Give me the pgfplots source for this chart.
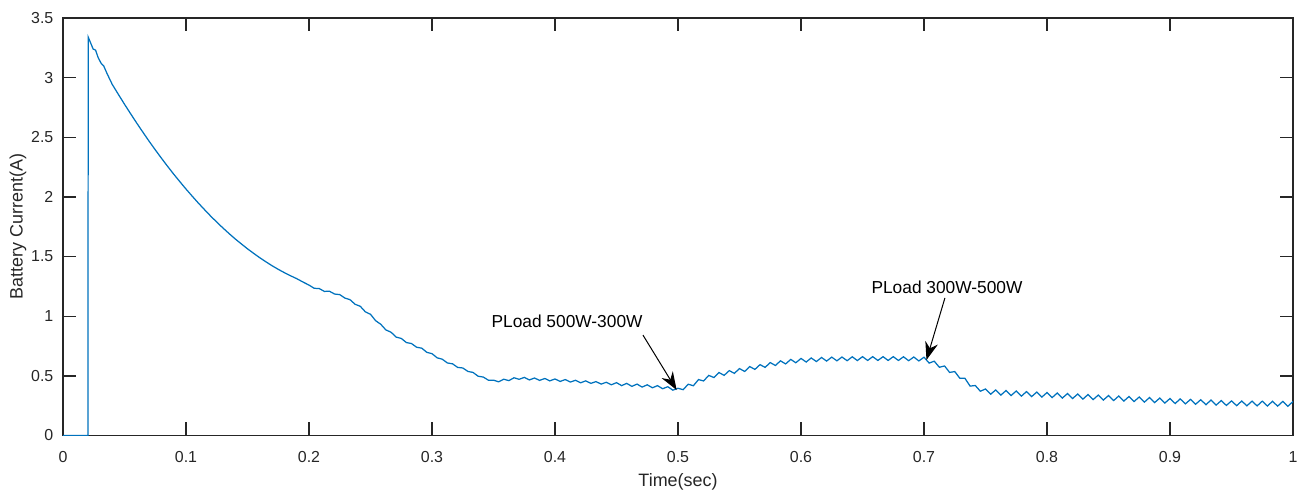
\documentclass[border=0pt]{standalone}
\usepackage{fontspec}
\setmainfont{Liberation Sans}
\usepackage{pgfplots}
\pgfplotsset{compat=1.18}
\usetikzlibrary{arrows.meta}
\definecolor{mblue}{rgb}{0,0.447,0.741}
\definecolor{axgray}{HTML}{262626}

\begin{document}
\begin{tikzpicture}
\path[use as bounding box] (-31.5bp,-29.25bp) rectangle (623bp,217.75bp);
\begin{axis}[
  scale only axis,
  width=615bp, height=208.75bp,
  xmin=0, xmax=1, ymin=0, ymax=3.5,
  xtick={0,0.1,0.2,0.3,0.4,0.5,0.6,0.7,0.8,0.9,1},
  ytick={0,0.5,1,1.5,2,2.5,3,3.5},
  tick align=inside,
  major tick length=6.5bp,
  axis line style={draw=axgray, line width=0.65bp},
  every tick/.style={draw=axgray, line width=0.65bp},
  tick label style={font=\fontsize{8}{9}\selectfont, text=axgray},
  xticklabel style={yshift=-4.3bp},
  yticklabel style={xshift=-1.3bp},
  /pgf/number format/assume math mode=true,
  label style={font=\fontsize{9}{10}\selectfont, text=axgray},
  xlabel={Time(sec)},
  ylabel={Battery Current(A)},
  xlabel style={at={(axis description cs:0.5,-0.1114)}, anchor=center},
  ylabel style={at={(axis description cs:-0.0366,0.5)}, anchor=center},
]
% start-up transient
\addplot[mblue, line width=0.62bp] coordinates {
(0,0) (0.0203,0) (0.0205,3.34) (0.0225,3.29) (0.0245,3.24) (0.0265,3.23)
(0.0285,3.17) (0.031,3.12) (0.033,3.10) (0.036,3.03) (0.040,2.944)
(0.045,2.86) (0.050,2.777) (0.055,2.697) (0.060,2.618) (0.065,2.542)
(0.070,2.467) (0.075,2.395) (0.080,2.325) (0.085,2.257) (0.090,2.191)
(0.095,2.128) (0.100,2.066) (0.105,2.007) (0.110,1.949) (0.115,1.894)
(0.120,1.840) (0.125,1.789) (0.130,1.740) (0.135,1.693) (0.140,1.648)
(0.145,1.606) (0.150,1.565) (0.155,1.527) (0.160,1.490) (0.165,1.456)
(0.170,1.423) (0.175,1.393) (0.180,1.365) (0.185,1.339) (0.190,1.315)
(0.195,1.287) (0.2000,1.261)
};
% ripple part
\addplot[mblue, line width=0.62bp] table {
t v
0.2000 1.261
0.2042 1.234
0.2083 1.232
0.2125 1.208
0.2167 1.209
0.2208 1.186
0.2250 1.181
0.2292 1.152
0.2333 1.139
0.2375 1.100
0.2417 1.083
0.2458 1.037
0.2500 1.016
0.2542 0.962
0.2583 0.933
0.2625 0.885
0.2667 0.866
0.2708 0.825
0.2750 0.814
0.2792 0.779
0.2833 0.771
0.2875 0.740
0.2917 0.732
0.2958 0.697
0.3000 0.686
0.3042 0.651
0.3083 0.640
0.3125 0.608
0.3167 0.601
0.3208 0.571
0.3250 0.566
0.3292 0.537
0.3333 0.529
0.3375 0.497
0.3417 0.490
0.3458 0.464
0.3500 0.464
0.3542 0.450
0.3583 0.472
0.3625 0.460
0.3667 0.484
0.3708 0.471
0.3750 0.487
0.3792 0.466
0.3833 0.482
0.3875 0.462
0.3917 0.478
0.3958 0.458
0.4000 0.474
0.4042 0.453
0.4083 0.469
0.4125 0.448
0.4167 0.463
0.4208 0.442
0.4250 0.458
0.4292 0.437
0.4333 0.452
0.4375 0.431
0.4417 0.446
0.4458 0.425
0.4500 0.443
0.4542 0.418
0.4583 0.437
0.4625 0.412
0.4667 0.431
0.4708 0.406
0.4750 0.425
0.4792 0.400
0.4833 0.418
0.4875 0.392
0.4917 0.409
0.4958 0.380
0.5000 0.396
0.5042 0.384
0.5083 0.430
0.5125 0.417
0.5167 0.469
0.5208 0.457
0.5250 0.504
0.5292 0.486
0.5333 0.528
0.5375 0.504
0.5417 0.544
0.5458 0.521
0.5500 0.561
0.5542 0.537
0.5583 0.578
0.5625 0.554
0.5667 0.594
0.5708 0.571
0.5750 0.611
0.5792 0.587
0.5833 0.626
0.5875 0.600
0.5917 0.638
0.5958 0.610
0.6000 0.646
0.6042 0.616
0.6083 0.650
0.6125 0.620
0.6167 0.654
0.6208 0.624
0.6250 0.657
0.6292 0.626
0.6333 0.658
0.6375 0.627
0.6417 0.660
0.6458 0.628
0.6500 0.661
0.6542 0.629
0.6583 0.661
0.6625 0.629
0.6667 0.661
0.6708 0.629
0.6750 0.661
0.6792 0.629
0.6833 0.660
0.6875 0.627
0.6917 0.658
0.6958 0.625
0.7000 0.656
0.7042 0.607
0.7083 0.623
0.7125 0.572
0.7167 0.583
0.7208 0.529
0.7250 0.536
0.7292 0.479
0.7333 0.479
0.7375 0.414
0.7417 0.419
0.7458 0.371
0.7500 0.390
0.7542 0.346
0.7583 0.382
0.7625 0.339
0.7667 0.377
0.7708 0.335
0.7750 0.373
0.7792 0.330
0.7833 0.368
0.7875 0.326
0.7917 0.364
0.7958 0.322
0.8000 0.360
0.8042 0.318
0.8083 0.356
0.8125 0.314
0.8167 0.352
0.8208 0.310
0.8250 0.348
0.8292 0.305
0.8333 0.343
0.8375 0.301
0.8417 0.339
0.8458 0.297
0.8500 0.335
0.8542 0.293
0.8583 0.331
0.8625 0.289
0.8667 0.327
0.8708 0.285
0.8750 0.323
0.8792 0.280
0.8833 0.318
0.8875 0.276
0.8917 0.314
0.8958 0.272
0.9000 0.310
0.9042 0.268
0.9083 0.307
0.9125 0.265
0.9167 0.303
0.9208 0.262
0.9250 0.300
0.9292 0.258
0.9333 0.297
0.9375 0.255
0.9417 0.293
0.9458 0.252
0.9500 0.290
0.9542 0.250
0.9583 0.289
0.9625 0.249
0.9667 0.288
0.9708 0.248
0.9750 0.288
0.9792 0.247
0.9833 0.287
0.9875 0.246
0.9917 0.286
0.9958 0.245
1.0000 0.285
};
\node[font=\fontsize{8.7}{10}\selectfont, text=black] at (axis cs:0.4098,0.96) {PLoad 500W-300W};
\node[font=\fontsize{8.7}{10}\selectfont, text=black] at (axis cs:0.7187,1.245) {PLoad 300W-500W};
\draw[black, line width=0.5bp, -{Stealth[length=9bp,width=6.5bp]}]
  (axis cs:0.4715,0.842) -- (axis cs:0.4989,0.381);
\draw[black, line width=0.5bp, -{Stealth[length=9bp,width=6.5bp]}]
  (axis cs:0.717,1.153) -- (axis cs:0.702,0.633);
\end{axis}
\end{tikzpicture}
\end{document}
